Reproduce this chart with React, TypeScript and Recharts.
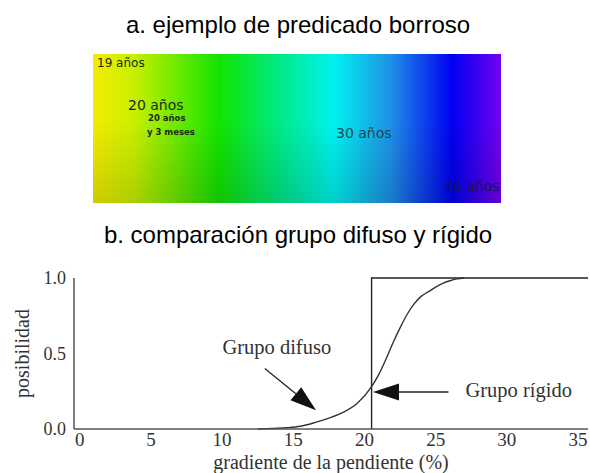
import React from 'react';
import { LineChart, Line, XAxis, YAxis, ReferenceLine } from 'recharts';

// curva del grupo difuso
const fuzzyX = [12.5, 13.5, 14.5, 15.5, 16.5, 17.5, 18.5, 19.5, 20.5, 21, 21.5, 22, 22.5, 23, 23.5, 24, 24.5, 25, 25.5, 26, 26.5, 27];
const fuzzyY = [0, 0.003, 0.008, 0.018, 0.042, 0.072, 0.11, 0.17, 0.28, 0.36, 0.46, 0.57, 0.67, 0.76, 0.83, 0.88, 0.91, 0.94, 0.965, 0.982, 0.994, 1.0];

// grupo rígido: escalón
const crispX = [20.5, 20.5, 35.7];
const crispY = [0, 1, 1];

const xTicks = [0, 5, 10, 15, 20, 25, 30, 35];
const yTicks = [0, 0.5, 1];

const fuzzy = fuzzyX.map((x, i) => ({ x, y: fuzzyY[i] }));
const crisp = crispX.map((x, i) => ({ x, y: crispY[i] }));

const SERIF = '"Liberation Serif", "DejaVu Serif", serif';
const SANS = '"Liberation Sans", Arial, sans-serif';
const HAND = '"DejaVu Sans", sans-serif';

const arrow = (text: string, tx: number, ty: number, anchor: string) => (props: any) => {
  const { x1, y1, x2, y2 } = props;
  const dx = x2 - x1;
  const dy = y2 - y1;
  const len = Math.sqrt(dx * dx + dy * dy);
  const ux = dx / len;
  const uy = dy / len;
  const hl = 26;
  const hw = 8.5;
  const bx = x2 - ux * hl;
  const by = y2 - uy * hl;
  const pts = `${x2},${y2} ${bx - uy * hw},${by + ux * hw} ${bx + uy * hw},${by - ux * hw}`;
  return (
    <g>
      <line x1={x1} y1={y1} x2={bx} y2={by} stroke="#222" strokeWidth={1.3} />
      <polygon points={pts} fill="#111" />
      <text x={x1 + tx} y={y1 + ty} textAnchor={anchor as any} dominantBaseline="central" fontFamily={SERIF} fontSize={20.5} fill="#333">
        {text}
      </text>
    </g>
  );
};

const GradientStrip = () => (
  <svg width={590} height={252} style={{ position: 'absolute', left: 0, top: 0 }}>
    <defs>
      <linearGradient id="hue" x1="0" y1="0" x2="1" y2="0">
        <stop offset="0%" stopColor="#f4ec00" />
        <stop offset="10%" stopColor="#c8f000" />
        <stop offset="31%" stopColor="#12e400" />
        <stop offset="45%" stopColor="#00ea80" />
        <stop offset="59%" stopColor="#00f2f0" />
        <stop offset="73%" stopColor="#1f90e6" />
        <stop offset="88%" stopColor="#0000f2" />
        <stop offset="100%" stopColor="#7400f0" />
      </linearGradient>
      <linearGradient id="shade" x1="0" y1="0" x2="0" y2="1">
        <stop offset="0%" stopColor="#000" stopOpacity={0} />
        <stop offset="45%" stopColor="#000" stopOpacity={0} />
        <stop offset="100%" stopColor="#000" stopOpacity={0.14} />
      </linearGradient>
    </defs>
    <text x={298} y={33} textAnchor="middle" fontFamily={SANS} fontSize={24} fill="#000">
      a. ejemplo de predicado borroso
    </text>
    <rect x={93} y={54} width={408} height={149} fill="url(#hue)" />
    <rect x={93} y={54} width={408} height={149} fill="url(#shade)" />
    <g fontFamily={HAND} fill="#1c2a10">
      <text x={97} y={63} fontSize={12} dominantBaseline="central">19 años</text>
      <text x={128} y={105} fontSize={14} dominantBaseline="central">20 años</text>
      <text x={148} y={118} fontSize={8.5} fontWeight="bold" dominantBaseline="central">20 años</text>
      <text x={147} y={132} fontSize={8.5} fontWeight="bold" dominantBaseline="central">y 3 meses</text>
      <text x={336} y={133} fontSize={14} fill="#1b4a5a" dominantBaseline="central">30 años</text>
      <text x={444} y={186} fontSize={14} fill="#141650" dominantBaseline="central">40 años</text>
    </g>
    <text x={298} y={243} textAnchor="middle" fontFamily={SANS} fontSize={24} fill="#000">
      b. comparación grupo difuso y rígido
    </text>
  </svg>
);

export default function App() {
  return (
    <div style={{ position: 'absolute', left: 0, top: 0, width: 590, height: 473, background: '#fff', overflow: 'hidden' }}>
      <LineChart width={590} height={473} margin={{ top: 278, right: 2, bottom: 0, left: 0 }}>
        <XAxis
          type="number"
          dataKey="x"
          domain={[-0.4, 35.7]}
          ticks={xTicks}
          allowDataOverflow
          tickLine={false}
          tickSize={0}
          tickMargin={4}
          height={44}
          axisLine={{ stroke: '#555', strokeWidth: 1.5 }}
          tick={{ fill: '#333', fontSize: 19, fontFamily: SERIF }}
          label={{
            content: (p: any) => (
              <text x={p.viewBox.x + p.viewBox.width / 2} y={462} textAnchor="middle" dominantBaseline="central" fontFamily={SERIF} fontSize={20} fill="#333">
                gradiente de la pendiente (%)
              </text>
            ),
          }}
        />
        <YAxis
          type="number"
          domain={[0, 1]}
          ticks={yTicks}
          tickFormatter={(v: number) => v.toFixed(1)}
          width={74}
          tickLine={false}
          tickSize={0}
          tickMargin={8}
          axisLine={{ stroke: '#555', strokeWidth: 1.5 }}
          tick={{ fill: '#333', fontSize: 18, fontFamily: SERIF }}
          label={{
            content: (p: any) => (
              <text
                x={22}
                y={p.viewBox.y + p.viewBox.height / 2}
                transform={`rotate(-90, 22, ${p.viewBox.y + p.viewBox.height / 2})`}
                textAnchor="middle"
                dominantBaseline="central"
                fontFamily={SERIF}
                fontSize={20}
                fill="#333"
              >
                posibilidad
              </text>
            ),
          }}
        />
        <Line data={crisp} dataKey="y" type="linear" stroke="#222" strokeWidth={1.4} dot={false} isAnimationActive={false} />
        <Line data={fuzzy} dataKey="y" type="monotone" stroke="#333" strokeWidth={1.4} dot={false} isAnimationActive={false} />
        <ReferenceLine
          segment={[{ x: 13.0, y: 0.4 }, { x: 16.6, y: 0.125 }]}
          shape={arrow('Grupo difuso', 12, -22, 'middle')}
        />
        <ReferenceLine
          segment={[{ x: 25.9, y: 0.245 }, { x: 20.6, y: 0.245 }]}
          shape={arrow('Grupo rígido', 17, -2, 'start')}
        />
      </LineChart>
      <GradientStrip />
    </div>
  );
}
